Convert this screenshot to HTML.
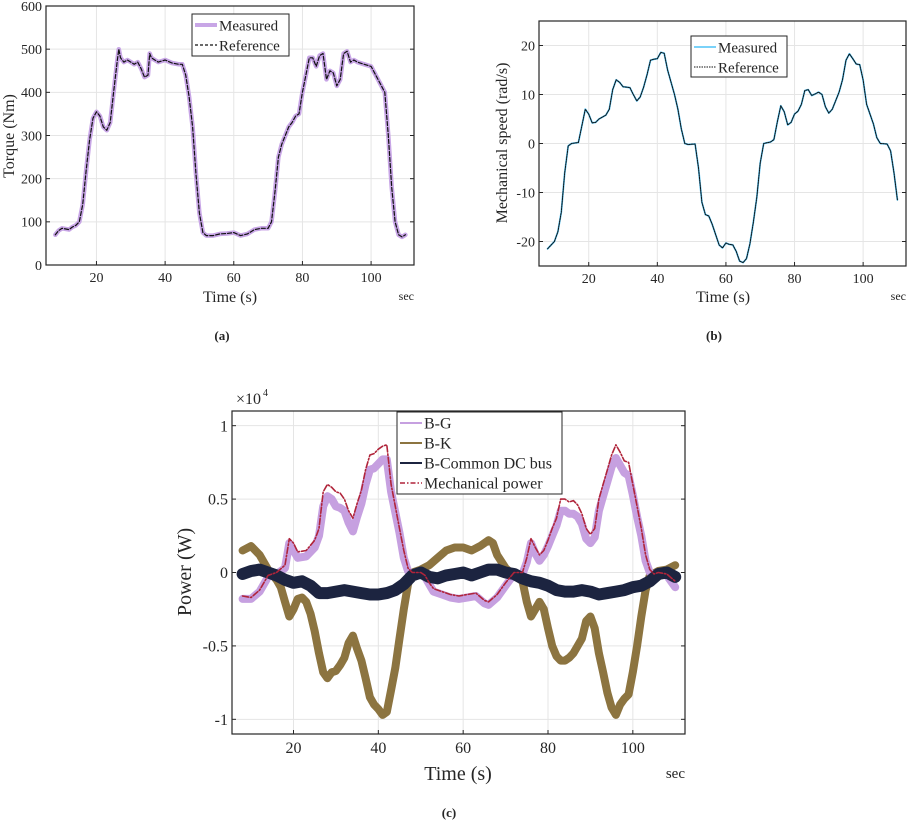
<!DOCTYPE html>
<html><head><meta charset="utf-8"><style>
html,body{margin:0;padding:0;background:#fff;width:907px;height:822px;overflow:hidden}
svg{position:absolute;left:0;top:0}
text{font-family:"Liberation Serif",serif;fill:#262626}
</style></head><body>
<svg id="fig" width="907" height="822" xmlns="http://www.w3.org/2000/svg"></svg>
<script>
// ---- data (a) torque
const torqueT=[8,9,10,12,13,14,15,16,17,18,19,20,21,22,23,24,25,26,26.5,27,28,29,30,31,32,33,34,35,35.5,36,37,38,40,42,44,45,46,47,48,49,50,51,52,54,56,58,60,62,64,66,68,70,71,72,73,74,75,76,77,78,79,80,81,82,83,84,85,86,87,88,89,90,91,92,93,94,95,96,98,100,102,104,105,106,107,108,109,110];
const torqueRef=[70,80,85,82,88,92,100,140,220,290,340,355,345,320,312,330,400,470,500,480,470,475,470,465,470,455,435,440,490,480,475,470,475,468,465,465,440,390,320,210,120,75,68,68,72,73,75,68,72,82,85,85,100,170,250,280,300,320,330,345,350,400,440,480,480,460,485,490,430,450,445,415,430,490,495,470,475,470,465,460,430,400,300,180,100,70,65,70];
const torqueMeas=torqueRef;
const torqueTicksY=[0,100,200,300,400,500,600];
// ---- data (b) speed
const speedT=[8,10,11,12,13,14,15,17,19,20,21,22,23,25,26,27,28,29,30,32,33,34,35,36,37,38,39,40,41,42,43,45,46,47,48,49,51,52,53,54,55,56,58,59,60,61,62,63,64,65,66,67,68,69,70,71,73,74,75,76,77,78,79,80,81,82,83,84,85,86,87,88,89,90,91,93,94,95,96,97,98,99,100,101,103,104,105,107,108,109,110];
const speedRef=[-21.5,-20,-18,-14,-6,-0.5,0,0.2,7,6,4.2,4.3,5,5.8,7,11,13,12.5,11.6,11.4,10,8.7,9.5,11.5,14,17,17.2,17.3,18.6,18.4,15,10,7,3,0,-0.2,-0.1,-5,-12,-14.5,-14.8,-16.5,-20.7,-21.3,-20.3,-20.6,-20.7,-22,-24,-24.3,-23.5,-20.5,-16,-11,-4,0,0.3,0.8,4.5,7.7,6.5,3.8,4.3,6,6.6,8,10.8,11,9.8,10.1,10.5,10,7.5,6.2,7,10.5,13,17,18.3,17.3,16.2,16.1,13,8,4,1.2,0,-0.1,-1.5,-6,-11.5];
const speedMeas=speedRef;
const speedTicksY=[-20,-10,0,10,20];
// ---- data (c) power (x1e4 W)
const powT=[8,10,12,14,16,18,19,20,21,23,25,26,27,28,29,30,31,32,33,34,35,36,37,38,39,40,41,42,43,45,46,47,48,50,51,52,53,55,57,59,61,63,65,66,68,70,72,74,75,76,77,78,79,80,81,82,83,84,85,86,87,88,89,90,91,92,93,94,95,96,97,98,99,100,101,102,103,104,105,106,108,110];
const mechPow=[-0.16,-0.17,-0.12,-0.02,0,0.05,0.23,0.2,0.14,0.15,0.22,0.3,0.55,0.6,0.58,0.55,0.54,0.5,0.42,0.37,0.47,0.56,0.7,0.8,0.81,0.84,0.86,0.87,0.6,0.3,0.15,0.03,0,0,-0.02,-0.07,-0.11,-0.13,-0.15,-0.16,-0.15,-0.14,-0.19,-0.2,-0.15,-0.07,0,0,0.1,0.23,0.17,0.12,0.15,0.22,0.3,0.37,0.5,0.5,0.48,0.49,0.46,0.4,0.3,0.26,0.3,0.5,0.6,0.7,0.8,0.87,0.82,0.76,0.75,0.6,0.45,0.3,0.12,0.02,-0.01,0,-0.01,-0.06];
const bgPow=[-0.18,-0.18,-0.13,-0.03,-0.01,0.03,0.2,0.15,0.1,0.11,0.17,0.25,0.45,0.52,0.5,0.45,0.44,0.42,0.34,0.28,0.38,0.47,0.6,0.7,0.71,0.74,0.77,0.77,0.55,0.27,0.1,0.01,-0.01,0,-0.03,-0.08,-0.13,-0.15,-0.17,-0.18,-0.17,-0.16,-0.21,-0.22,-0.17,-0.09,-0.01,-0.01,0.07,0.2,0.13,0.08,0.12,0.18,0.25,0.32,0.42,0.42,0.4,0.4,0.38,0.33,0.23,0.2,0.24,0.42,0.52,0.62,0.72,0.78,0.73,0.68,0.66,0.53,0.38,0.25,0.08,0,-0.02,-0.01,-0.02,-0.1];
const bkT=[8,10,12,14,16,17,18,19,20,21,22,23,24,25,26,27,28,29,30,31,32,33,34,35,36,37,38,39,40,41,42,43,44,45,46,47,48,50,52,54,56,58,60,62,64,66,67,68,70,72,74,75,76,77,78,79,80,81,82,83,84,85,86,87,88,89,90,91,92,93,94,95,96,97,98,99,100,101,102,103,104,106,108,110];
const bkPow=[0.15,0.18,0.12,0.02,-0.05,-0.1,-0.2,-0.3,-0.25,-0.18,-0.17,-0.2,-0.28,-0.4,-0.55,-0.68,-0.72,-0.68,-0.67,-0.63,-0.58,-0.48,-0.43,-0.52,-0.6,-0.72,-0.85,-0.9,-0.93,-0.97,-0.95,-0.8,-0.65,-0.45,-0.25,-0.08,0,0.02,0.05,0.1,0.15,0.17,0.17,0.15,0.18,0.22,0.2,0.12,0.03,-0.02,-0.06,-0.2,-0.3,-0.25,-0.2,-0.25,-0.38,-0.5,-0.57,-0.6,-0.6,-0.58,-0.55,-0.5,-0.45,-0.33,-0.3,-0.38,-0.55,-0.68,-0.82,-0.92,-0.97,-0.9,-0.86,-0.83,-0.68,-0.5,-0.3,-0.12,-0.02,0.01,0.02,0.05];
const dcT=[8,10,12,14,16,18,20,22,24,26,28,30,32,34,36,38,40,42,44,46,48,50,52,54,56,58,60,62,64,66,68,70,72,74,76,78,80,82,84,86,88,90,92,94,96,98,100,102,104,106,108,110];
const dcPow=[-0.01,0.01,0.02,0,-0.02,-0.05,-0.07,-0.06,-0.09,-0.14,-0.14,-0.13,-0.12,-0.13,-0.14,-0.15,-0.15,-0.14,-0.12,-0.08,-0.02,0,-0.03,-0.04,-0.02,-0.01,0,-0.02,0,0.02,0.02,0,-0.01,-0.04,-0.06,-0.07,-0.09,-0.12,-0.13,-0.13,-0.12,-0.13,-0.15,-0.14,-0.13,-0.12,-0.1,-0.09,-0.06,-0.01,0,-0.03];
const powTicksY=[-1,-0.5,0,0.5,1];
const powTickLabels=["-1","-0.5","0","0.5","1"];
const timeTicks=[20,40,60,80,100];

const NS="http://www.w3.org/2000/svg";
const fig=document.getElementById('fig');
function mk(tag,attrs,parent){const e=document.createElementNS(NS,tag);for(const k in attrs)e.setAttribute(k,attrs[k]);(parent||fig).appendChild(e);return e;}
function txt(s,attrs,parent){const e=mk('text',attrs,parent);e.textContent=s;return e;}

function makeAxes(box,xr,yr,yTicks,yLabels,fs){
  const sx=v=>box.l+(v-xr[0])/(xr[1]-xr[0])*(box.r-box.l);
  const sy=v=>box.b-(v-yr[0])/(yr[1]-yr[0])*(box.b-box.t);
  const g=mk('g',{});
  timeTicks.forEach(t=>{
    const l=mk('line',{x1:sx(t),x2:sx(t),y1:box.t,y2:box.b,stroke:'#e5e5e5','stroke-width':1},g);
    
    
    mk('line',{x1:sx(t),x2:sx(t),y1:box.b,y2:box.b-4,stroke:'#262626'},g);
    const tt=txt(String(t),{x:sx(t),y:box.b+fs+3,'text-anchor':'middle','font-size':fs},g);
    
    
  });
  yTicks.forEach((v,i)=>{
    const l=mk('line',{x1:box.l,x2:box.r,y1:sy(v),y2:sy(v),stroke:'#e5e5e5','stroke-width':1},g);
    
    
    mk('line',{x1:box.l,x2:box.l+4,y1:sy(v),y2:sy(v),stroke:'#262626'},g);
    mk('line',{x1:box.r,x2:box.r-4,y1:sy(v),y2:sy(v),stroke:'#262626'},g);
    const tt=txt(yLabels?yLabels[i]:String(v),{x:box.l-4,y:sy(v)+fs*0.35,'text-anchor':'end','font-size':fs},g);
    
    
  });
  return {sx,sy,g};
}
function drawBox(box){
  const r=mk('rect',{x:box.l,y:box.t,width:box.r-box.l,height:box.b-box.t,fill:'none',stroke:'#262626','stroke-width':1.2});
  
  
}
function line(ax,xs,ys,style,name){
  let d='';xs.forEach((x,i)=>{d+=(i?'L':'M')+ax.sx(x).toFixed(1)+','+ax.sy(ys[i]).toFixed(1);});
  const p=mk('path',Object.assign({d:d,fill:'none','stroke-linejoin':'round','stroke-linecap':'round'},style));
  
  
  return p;
}
function legend(x,y,w,h,items,fs,lh,name){
  const g=mk('g',{});
  
  
  mk('rect',{x:x,y:y,width:w,height:h,fill:'#fff',stroke:'#262626','stroke-width':1},g);
  items.forEach((it,i)=>{
    const cy=y+lh*0.55+i*lh;
    mk('line',Object.assign({x1:x+3,x2:x+25,y1:cy,y2:cy},it.style),g);
    const t=txt(it.label,{x:x+27,y:cy+fs*0.35,'font-size':fs},g);
    
    
  });
}

// ---- chart (a)
const boxA={l:46,r:414,t:6,b:265};
const axA=makeAxes(boxA,[5.3,112.5],[0,600],torqueTicksY,null,14);
line(axA,torqueT,torqueMeas,{stroke:'#c8a6e6','stroke-width':4.5},'torque-measured-line');
line(axA,torqueT,torqueRef,{stroke:'#111','stroke-width':1.2,'stroke-dasharray':'4,2'},'torque-reference-line');
drawBox(boxA);
legend(192,14,97,42,[{label:'Measured',style:{stroke:'#c8a6e6','stroke-width':4}},{label:'Reference',style:{stroke:'#111','stroke-width':1.2,'stroke-dasharray':'3,2'}}],15,20,'legend-a');
let t;
t=txt('Torque (Nm)',{x:0,y:0,'font-size':16,'text-anchor':'middle',transform:'translate(14,136) rotate(-90)'});

t=txt('Time (s)',{x:230,y:302,'font-size':16,'text-anchor':'middle'});

t=txt('sec',{x:414,y:300,'font-size':12,'text-anchor':'end'});

t=txt('(a)',{x:222,y:340,'font-size':13,'text-anchor':'middle','font-weight':'bold'});


// ---- chart (b)
const boxB={l:539,r:906,t:21,b:266};
const axB=makeAxes(boxB,[5.5,112.5],[-25,25],speedTicksY,null,14);
line(axB,speedT,speedMeas,{stroke:'#4fc3f7','stroke-width':1.8},'speed-measured-line');
line(axB,speedT,speedRef,{stroke:'#111','stroke-width':1,'stroke-dasharray':'1.5,1'},'speed-reference-line');
drawBox(boxB);
legend(691,36,96,41,[{label:'Measured',style:{stroke:'#4fc3f7','stroke-width':1.5}},{label:'Reference',style:{stroke:'#111','stroke-width':1,'stroke-dasharray':'1.5,1'}}],15,20,'legend-b');
t=txt('Mechanical speed (rad/s)',{x:0,y:0,'font-size':16,'text-anchor':'middle',transform:'translate(507,143) rotate(-90)'});

t=txt('Time (s)',{x:723,y:302,'font-size':16,'text-anchor':'middle'});

t=txt('sec',{x:906,y:300,'font-size':12,'text-anchor':'end'});

t=txt('(b)',{x:714,y:340,'font-size':13,'text-anchor':'middle','font-weight':'bold'});


// ---- chart (c)
const boxC={l:232,r:685,t:411,b:734};
const axC=makeAxes(boxC,[5.5,112.3],[-1.1,1.1],powTicksY,powTickLabels,16);
line(axC,bkT,bkPow,{stroke:'#8c7440','stroke-width':8},'bk-power-line');
line(axC,powT,bgPow,{stroke:'#c6a0e0','stroke-width':8},'bg-power-line');
line(axC,dcT,dcPow,{stroke:'#1c2440','stroke-width':12},'common-dc-bus-power-line');
line(axC,powT,mechPow,{stroke:'#b0243a','stroke-width':1.6,'stroke-dasharray':'6,2,1.5,2'},'mechanical-power-line');
drawBox(boxC);
legend(397,412,165,82,[{label:'B-G',style:{stroke:'#c6a0e0','stroke-width':2}},{label:'B-K',style:{stroke:'#8c7440','stroke-width':2}},{label:'B-Common DC bus',style:{stroke:'#1c2440','stroke-width':2}},{label:'Mechanical power',style:{stroke:'#b0243a','stroke-width':1.5,'stroke-dasharray':'5,2,1.5,2'}}],16,20,'legend-c');
t=txt('×10',{x:236,y:404,'font-size':16});

t=txt('4',{x:263,y:396,'font-size':10});

t=txt('Power (W)',{x:0,y:0,'font-size':20,'text-anchor':'middle',transform:'translate(191,572) rotate(-90)'});

t=txt('Time (s)',{x:458,y:780,'font-size':20,'text-anchor':'middle'});

t=txt('sec',{x:685,y:778,'font-size':15,'text-anchor':'end'});

t=txt('(c)',{x:449,y:817,'font-size':13,'text-anchor':'middle','font-weight':'bold'});

</script>
</body></html>
